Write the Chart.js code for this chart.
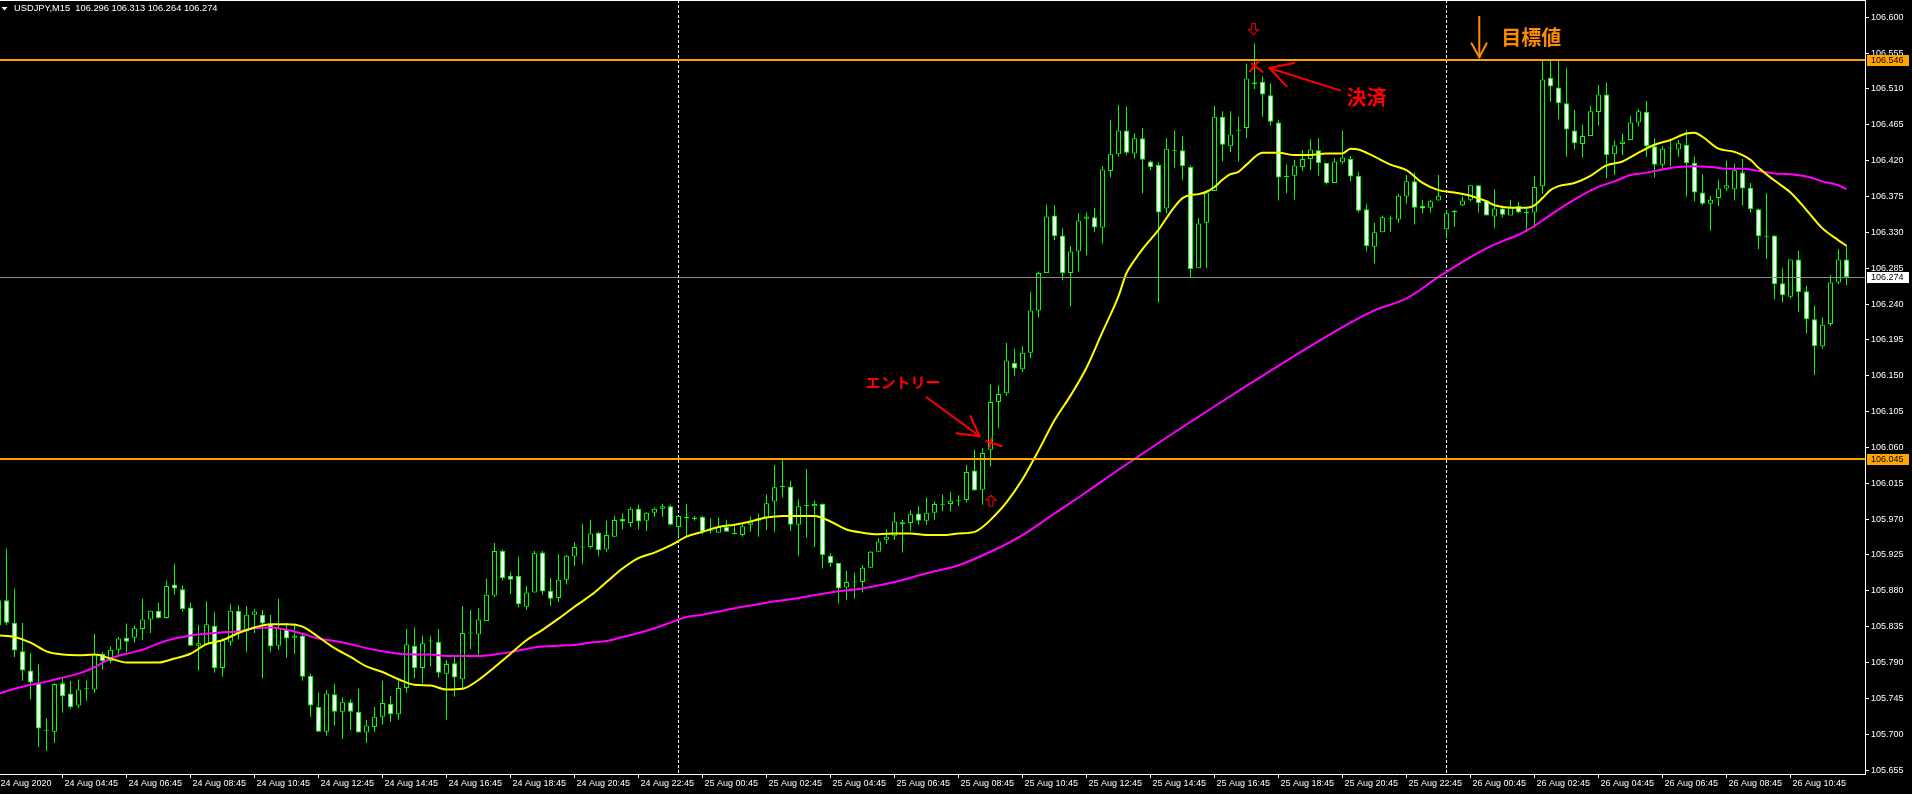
<!DOCTYPE html>
<html>
<head>
<meta charset="utf-8">
<title>USDJPY,M15</title>
<script src="https://cdn.jsdelivr.net/npm/chart.js@4.4.1/dist/chart.umd.min.js"></script>
<style>
  html, body { margin: 0; padding: 0; background: #000; overflow: hidden; }
  canvas { display: block; }
</style>
</head>
<body>
<canvas id="chart" width="1912" height="794"></canvas>
<script>
/* ==========================================================
   DATA : USDJPY M15, 24 Aug 02:45 -> 26 Aug 12:30 (bar index)
   ========================================================== */
const SYMBOL = "USDJPY,M15";

const OPEN = [
  105.837, 105.868, 105.840, 105.804, 105.780, 105.764, 105.705, 105.703, 105.764, 105.751,
  105.736, 105.757, 105.756, 105.801, 105.792, 105.806, 105.821, 105.821, 105.832, 105.844,
  105.855, 105.846, 105.888, 105.882, 105.859, 105.811, 105.813, 105.836, 105.783, 105.816,
  105.855, 105.829, 105.850, 105.850, 105.838, 105.811, 105.832, 105.821, 105.824, 105.773,
  105.734, 105.703, 105.750, 105.728, 105.740, 105.728, 105.702, 105.709, 105.722, 105.738,
  105.725, 105.758, 105.811, 105.783, 105.817, 105.816, 105.776, 105.789, 105.769, 105.827,
  105.825, 105.842, 105.874, 105.930, 105.899, 105.899, 105.860, 105.878, 105.928, 105.880,
  105.871, 105.894, 105.923, 105.935, 105.935, 105.953, 105.932, 105.948, 105.970, 105.965,
  105.983, 105.968, 105.978, 105.983, 105.986, 105.960, 105.972, 105.970, 105.973, 105.956,
  105.953, 105.960, 105.953, 105.950, 105.963, 105.968, 105.972, 105.992, 106.011, 106.011,
  105.963, 105.987, 105.986, 105.989, 105.924, 105.915, 105.884, 105.891, 105.891, 105.909,
  105.929, 105.944, 105.949, 105.964, 105.965, 105.977, 105.968, 105.978, 105.988, 105.989,
  105.993, 105.994, 106.031, 106.007, 106.057, 106.117, 106.128, 106.166, 106.158, 106.179,
  106.232, 106.279, 106.351, 106.326, 106.279, 106.306, 106.347, 106.349, 106.336, 106.407,
  106.428, 106.458, 106.429, 106.448, 106.419, 106.415, 106.360, 106.433, 106.433, 106.412,
  106.285, 106.342, 106.382, 106.475, 106.438, 106.458, 106.461, 106.518, 106.519, 106.502,
  106.468, 106.400, 106.401, 106.412, 106.422, 106.433, 106.417, 106.392, 106.418, 106.422,
  106.401, 106.359, 106.312, 106.330, 106.347, 106.346, 106.375, 106.394, 106.363, 106.361,
  106.370, 106.334, 106.355, 106.364, 106.371, 106.389, 106.370, 106.350, 106.360, 106.351,
  106.363, 106.355, 106.355, 106.388, 106.524, 106.512, 106.492, 106.458, 106.441, 106.451,
  106.481, 106.503, 106.428, 106.441, 106.446, 106.468, 106.481, 106.438, 106.415, 106.436,
  106.434, 106.440, 106.417, 106.380, 106.366, 106.373, 106.385, 106.384, 106.405, 106.386,
  106.359, 106.325, 106.326, 106.266, 106.249, 106.296, 106.256, 106.221, 106.187, 106.215,
  106.267, 106.296
];
const HIGH = [
  105.870, 105.933, 105.883, 105.840, 105.802, 105.788, 105.720, 105.764, 105.771, 105.767,
  105.768, 105.767, 105.826, 105.803, 105.810, 105.822, 105.839, 105.836, 105.870, 105.855,
  105.865, 105.893, 105.914, 105.887, 105.865, 105.837, 105.867, 105.853, 105.820, 105.863,
  105.862, 105.861, 105.857, 105.856, 105.850, 105.870, 105.840, 105.839, 105.827, 105.776,
  105.752, 105.755, 105.763, 105.746, 105.744, 105.757, 105.718, 105.734, 105.767, 105.748,
  105.767, 105.832, 105.834, 105.824, 105.823, 105.832, 105.793, 105.797, 105.861, 105.856,
  105.858, 105.895, 105.940, 105.932, 105.904, 105.923, 105.886, 105.930, 105.930, 105.896,
  105.926, 105.925, 105.941, 105.964, 105.969, 105.954, 105.968, 105.974, 105.977, 105.985,
  105.988, 105.979, 105.985, 105.989, 105.988, 105.974, 105.989, 105.974, 105.974, 105.971,
  105.972, 105.969, 105.963, 105.965, 105.973, 105.977, 106.001, 106.038, 106.045, 106.018,
  105.995, 106.033, 105.993, 105.990, 105.927, 105.915, 105.905, 105.903, 105.912, 105.930,
  105.946, 105.957, 105.978, 105.969, 105.981, 105.986, 105.997, 105.992, 106.001, 106.004,
  106.000, 106.038, 106.057, 106.059, 106.139, 106.138, 106.191, 106.184, 106.187, 106.255,
  106.281, 106.365, 106.364, 106.335, 106.313, 106.354, 106.355, 106.361, 106.413, 106.471,
  106.490, 106.488, 106.454, 106.461, 106.420, 106.418, 106.448, 106.458, 106.451, 106.414,
  106.348, 106.383, 106.489, 106.482, 106.482, 106.475, 106.542, 106.567, 106.526, 106.517,
  106.471, 106.415, 106.421, 106.433, 106.447, 106.448, 106.417, 106.423, 106.458, 106.426,
  106.406, 106.366, 106.342, 106.351, 106.351, 106.378, 106.402, 106.405, 106.371, 106.371,
  106.402, 106.358, 106.358, 106.375, 106.389, 106.389, 106.370, 106.384, 106.364, 106.371,
  106.368, 106.362, 106.401, 106.546, 106.546, 106.547, 106.536, 106.484, 106.465, 106.489,
  106.515, 106.518, 106.445, 106.454, 106.476, 106.485, 106.495, 106.448, 106.438, 106.446,
  106.446, 106.458, 106.425, 106.403, 106.376, 106.396, 106.420, 106.416, 106.422, 106.392,
  106.360, 106.379, 106.326, 106.285, 106.296, 106.307, 106.263, 106.238, 106.223, 106.276,
  106.309, 106.313
];
const LOW = [
  105.835, 105.837, 105.797, 105.767, 105.744, 105.684, 105.679, 105.689, 105.727, 105.732,
  105.733, 105.742, 105.752, 105.781, 105.789, 105.797, 105.803, 105.815, 105.818, 105.827,
  105.845, 105.845, 105.875, 105.854, 105.811, 105.780, 105.812, 105.777, 105.772, 105.811,
  105.819, 105.803, 105.827, 105.770, 105.803, 105.806, 105.796, 105.801, 105.767, 105.722,
  105.703, 105.698, 105.711, 105.694, 105.705, 105.702, 105.689, 105.703, 105.712, 105.715,
  105.718, 105.752, 105.770, 105.764, 105.785, 105.771, 105.718, 105.747, 105.757, 105.807,
  105.799, 105.842, 105.872, 105.893, 105.876, 105.859, 105.856, 105.878, 105.875, 105.861,
  105.866, 105.888, 105.911, 105.914, 105.933, 105.924, 105.929, 105.948, 105.957, 105.960,
  105.957, 105.955, 105.973, 105.973, 105.962, 105.948, 105.948, 105.968, 105.951, 105.952,
  105.953, 105.954, 105.951, 105.948, 105.954, 105.948, 105.956, 105.954, 105.997, 105.955,
  105.924, 105.947, 105.935, 105.908, 105.910, 105.864, 105.868, 105.870, 105.878, 105.909,
  105.929, 105.939, 105.944, 105.928, 105.955, 105.963, 105.963, 105.969, 105.980, 105.980,
  105.986, 105.991, 106.006, 105.988, 106.036, 106.084, 106.125, 106.150, 106.155, 106.172,
  106.223, 106.279, 106.320, 106.270, 106.237, 106.281, 106.301, 106.330, 106.316, 106.399,
  106.425, 106.427, 106.423, 106.379, 106.408, 106.242, 106.354, 106.411, 106.396, 106.274,
  106.285, 106.285, 106.382, 106.419, 106.431, 106.419, 106.448, 106.510, 106.475, 106.464,
  106.370, 106.379, 106.371, 106.407, 106.408, 106.401, 106.390, 106.392, 106.416, 106.394,
  106.355, 106.306, 106.291, 106.330, 106.331, 106.342, 106.366, 106.340, 106.354, 106.355,
  106.370, 106.322, 106.337, 106.363, 106.369, 106.355, 106.351, 106.335, 106.349, 106.351,
  106.354, 106.330, 106.336, 106.378, 106.494, 106.472, 106.425, 106.434, 106.424, 106.451,
  106.464, 106.398, 106.402, 106.427, 106.446, 106.463, 106.425, 106.399, 106.409, 106.413,
  106.425, 106.375, 106.369, 106.364, 106.332, 106.363, 106.382, 106.370, 106.364, 106.355,
  106.309, 106.297, 106.246, 106.242, 106.247, 106.230, 106.203, 106.151, 106.184, 106.212,
  106.265, 106.264
];
const CLOSE = [
  105.868, 105.840, 105.805, 105.780, 105.765, 105.707, 105.705, 105.763, 105.748, 105.734,
  105.756, 105.757, 105.800, 105.792, 105.806, 105.820, 105.816, 105.833, 105.844, 105.855,
  105.846, 105.886, 105.883, 105.857, 105.811, 105.814, 105.838, 105.783, 105.818, 105.855,
  105.827, 105.850, 105.854, 105.839, 105.810, 105.833, 105.820, 105.824, 105.772, 105.736,
  105.703, 105.751, 105.728, 105.740, 105.728, 105.702, 105.711, 105.722, 105.739, 105.725,
  105.758, 105.813, 105.783, 105.814, 105.817, 105.777, 105.788, 105.771, 105.827, 105.827,
  105.844, 105.875, 105.930, 105.896, 105.894, 105.863, 105.878, 105.927, 105.879, 105.870,
  105.894, 105.924, 105.935, 105.935, 105.952, 105.931, 105.950, 105.969, 105.967, 105.983,
  105.967, 105.978, 105.983, 105.986, 105.963, 105.974, 105.972, 105.972, 105.954, 105.956,
  105.960, 105.954, 105.951, 105.961, 105.966, 105.971, 105.990, 106.010, 106.011, 105.963,
  105.986, 105.987, 105.989, 105.925, 105.915, 105.883, 105.891, 105.891, 105.909, 105.929,
  105.942, 105.948, 105.967, 105.966, 105.976, 105.968, 105.978, 105.989, 105.988, 105.993,
  105.993, 106.029, 106.006, 106.053, 106.117, 106.127, 106.169, 106.159, 106.179, 106.232,
  106.279, 106.350, 106.325, 106.279, 106.306, 106.345, 106.350, 106.336, 106.409, 106.428,
  106.458, 106.430, 106.448, 106.421, 106.412, 106.355, 106.435, 106.433, 106.413, 106.284,
  106.341, 106.380, 106.475, 106.440, 106.453, 106.458, 106.523, 106.516, 106.503, 106.469,
  106.399, 106.400, 106.414, 106.422, 106.434, 106.417, 106.392, 106.419, 106.424, 106.400,
  106.357, 106.313, 106.330, 106.349, 106.347, 106.376, 106.394, 106.361, 106.360, 106.369,
  106.376, 106.354, 106.357, 106.370, 106.389, 106.367, 106.351, 106.360, 106.352, 106.362,
  106.355, 106.355, 106.387, 106.522, 106.513, 106.492, 106.459, 106.442, 106.451, 106.482,
  106.503, 106.427, 106.439, 106.444, 106.468, 106.482, 106.438, 106.415, 106.435, 106.436,
  106.442, 106.417, 106.380, 106.366, 106.371, 106.385, 106.389, 106.408, 106.385, 106.359,
  106.325, 106.325, 106.265, 106.251, 106.296, 106.255, 106.221, 106.187, 106.214, 106.267,
  106.296, 106.274
];

// fast MA (yellow) at these bars
const MA_FAST_BARS = [
  0, 2, 4, 6, 8, 10, 12, 14, 16, 18, 20, 22, 24, 26, 28, 30, 32, 34, 36, 38,
  40, 42, 44, 46, 48, 50, 52, 54, 56, 58, 60, 62, 64, 66, 68, 70, 72, 74, 76, 78,
  80, 82, 84, 86, 88, 90, 92, 94, 96, 98, 100, 102, 104, 106, 108, 110, 112, 114, 116, 118,
  120, 122, 123, 124, 126, 128, 130, 132, 134, 136, 138, 140,
  141, 142, 143, 144, 145, 146, 147, 148, 149, 150, 151, 152, 153, 154, 155, 156,
  158, 160, 162, 164, 166, 168, 169, 170, 172, 174, 176, 178, 180, 182, 184, 186,
  187, 189, 191, 192, 193, 194, 195, 197, 199, 201, 203, 205, 207, 209, 211, 212, 213,
  215, 217, 219, 220, 222, 224, 226, 228, 230, 231
];
const MA_FAST = [
  105.824, 105.822, 105.815, 105.804, 105.800, 105.799, 105.800, 105.795, 105.790, 105.790,
  105.790, 105.795, 105.801, 105.813, 105.818, 105.827, 105.834, 105.838, 105.838, 105.835,
  105.822, 105.808, 105.797, 105.785, 105.778, 105.769, 105.762, 105.761, 105.756, 105.757,
  105.768, 105.784, 105.801, 105.818, 105.831, 105.845, 105.860, 105.874, 105.891, 105.908,
  105.921, 105.928, 105.937, 105.948, 105.954, 105.960, 105.963, 105.967, 105.972, 105.974,
  105.974, 105.974, 105.967, 105.957, 105.953, 105.951, 105.952, 105.952, 105.950, 105.950,
  105.952, 105.954, 105.960, 105.969, 105.991, 106.020, 106.056, 106.094, 106.125, 106.160,
  106.205, 106.250,
  106.279, 106.295, 106.309, 106.321, 106.333, 106.348, 106.362, 106.373, 106.377, 106.378,
  106.381, 106.387, 106.396, 106.403, 106.406, 106.415,
  106.430, 106.430, 106.427, 106.427, 106.429, 106.429, 106.435, 106.434, 106.425, 106.415,
  106.408, 106.392, 106.383, 106.380, 106.376, 106.369,
  106.364, 106.361, 106.361, 106.364, 106.373, 106.383, 106.388, 106.392, 106.401, 106.414,
  106.419, 106.430, 106.440, 106.446, 106.454, 106.455, 106.450,
  106.435, 106.431, 106.421, 106.411, 106.395, 106.380, 106.358, 106.335, 106.320, 106.313
];

// slow MA (magenta)
const MA_SLOW_BARS = [
  0, 2, 4, 6, 8, 10, 12, 14, 16, 18, 20, 22, 24, 26, 28, 30, 32, 34, 36, 38,
  40, 42, 44, 46, 48, 50, 52, 54, 56, 58, 60, 62, 64, 66, 68, 70, 72, 74, 76, 78,
  80, 82, 84, 86, 88, 90, 92,
  96, 100, 104, 108, 112, 116, 120, 124, 128, 132, 136, 140,
  153, 168, 172, 176, 180, 184,
  186, 188, 190, 192, 194, 196, 198, 200, 202, 204, 206, 208, 210, 212, 214, 216, 218, 220,
  222, 224, 226, 228, 230, 231
];
const MA_SLOW = [
  105.751, 105.757, 105.762, 105.766, 105.771, 105.776, 105.784, 105.795, 105.801, 105.806,
  105.814, 105.820, 105.824, 105.826, 105.828, 105.829, 105.833, 105.834, 105.831, 105.826,
  105.820, 105.817, 105.813, 105.808, 105.804, 105.801, 105.800, 105.800, 105.798, 105.798,
  105.798, 105.800, 105.803, 105.807, 105.810, 105.811, 105.812, 105.815, 105.817, 105.822,
  105.827, 105.833, 105.840, 105.847, 105.850, 105.854, 105.858,
  105.865, 105.871, 105.878, 105.883, 105.891, 105.902, 105.912, 105.929, 105.950, 105.977,
  106.004, 106.032,
  106.118, 106.211, 106.232, 106.247, 106.274, 106.299,
  106.310, 106.319, 106.327, 106.338, 106.352, 106.365, 106.377, 106.387, 106.394, 106.402,
  106.405, 106.409, 106.412, 106.413, 106.412, 106.410, 106.410, 106.407,
  106.404, 106.403, 106.400, 106.394, 106.389, 106.384
];

const TIME_TICK_BARS = [0, 8, 16, 24, 32, 40, 48, 56, 64, 72, 80, 88, 96, 104, 112,
  120, 128, 136, 144, 152, 160, 168, 176, 184, 192, 200, 208, 216, 224];
const TIME_LABELS = ["24 Aug 2020", "24 Aug 04:45", "24 Aug 06:45", "24 Aug 08:45", "24 Aug 10:45",
  "24 Aug 12:45", "24 Aug 14:45", "24 Aug 16:45", "24 Aug 18:45", "24 Aug 20:45", "24 Aug 22:45",
  "25 Aug 00:45", "25 Aug 02:45", "25 Aug 04:45", "25 Aug 06:45", "25 Aug 08:45", "25 Aug 10:45",
  "25 Aug 12:45", "25 Aug 14:45", "25 Aug 16:45", "25 Aug 18:45", "25 Aug 20:45", "25 Aug 22:45",
  "26 Aug 00:45", "26 Aug 02:45", "26 Aug 04:45", "26 Aug 06:45", "26 Aug 08:45", "26 Aug 10:45"];
const PRICE_TICKS = [106.600, 106.555, 106.510, 106.465, 106.420, 106.375, 106.330, 106.285,
  106.240, 106.195, 106.150, 106.105, 106.060, 106.015, 105.970, 105.925, 105.880, 105.835,
  105.790, 105.745, 105.700, 105.655];

const DAY_BREAK_BARS = [85, 181];
const TARGET_LEVEL = 106.546;
const ENTRY_LEVEL = 106.045;
const BID = 106.274;

// annotation anchors (bar, price)
const ENTRY_BAR = 124, ENTRY_PRICE = 106.064;
const EXIT_BAR = 157, EXIT_PRICE = 106.538;
const TARGET_BAR = 185;

/* ==========================================================
   DATASETS
   ========================================================== */
const FONT = "'Liberation Sans', Arial, sans-serif";
const JP_FONT = "'Noto Sans CJK JP', 'Noto Sans CJK SC', sans-serif";

const bodyData = OPEN.map((o, i) => {
  let lo = Math.min(o, CLOSE[i]), hi = Math.max(o, CLOSE[i]);
  if (hi - lo < 0.0012) { // doji : keep a visible line
    const m = (hi + lo) / 2;
    lo = m - 0.0006; hi = m + 0.0006;
  }
  return { x: i, y: [lo, hi] };
});
const bodyFill = OPEN.map((o, i) => (CLOSE[i] >= o ? "#000000" : "#ffffff"));
const wickData = HIGH.map((h, i) => ({ x: i, y: [LOW[i], h] }));
const fastLine = MA_FAST_BARS.map((b, k) => ({ x: b, y: MA_FAST[k] }));
const slowLine = MA_SLOW_BARS.map((b, k) => ({ x: b, y: MA_SLOW[k] }));

/* ==========================================================
   OVERLAY : separators, levels, notes, axis boxes
   ========================================================== */
function seg(ctx, x1, y1, x2, y2) {
  ctx.beginPath(); ctx.moveTo(x1, y1); ctx.lineTo(x2, y2); ctx.stroke();
}
function arrow(ctx, tx, ty, hx, hy, a1x, a1y, a2x, a2y) {
  seg(ctx, tx, ty, hx, hy);
  seg(ctx, hx, hy, a1x, a1y);
  seg(ctx, hx, hy, a2x, a2y);
}
function hollowArrow(ctx, cx, top, down) {
  const pts = down
    ? [[-2, 0], [2, 0], [2, 6], [5, 6], [0, 11], [-5, 6], [-2, 6]]
    : [[0, 0], [5, 5], [2, 5], [2, 11], [-2, 11], [-2, 5], [-5, 5]];
  ctx.beginPath();
  pts.forEach(([dx, dy], k) => (k ? ctx.lineTo(cx + dx, top + dy) : ctx.moveTo(cx + dx, top + dy)));
  ctx.closePath();
  ctx.stroke();
}

const overlay = {
  id: "mt4Overlay",
  beforeDraw(chart) {
    const ctx = chart.ctx;
    ctx.save();
    ctx.fillStyle = "#000";
    ctx.fillRect(0, 0, chart.width, chart.height);
    ctx.restore();
  },
  beforeDatasetsDraw(chart) {
    const { ctx, chartArea: a, scales: { x } } = chart;
    ctx.save();
    ctx.strokeStyle = "#ffffff";
    ctx.lineWidth = 1;
    ctx.setLineDash([3, 2]);
    DAY_BREAK_BARS.forEach(b => {
      const px = Math.floor(x.getPixelForValue(b)) + 0.5;
      seg(ctx, px, a.top, px, a.bottom);
    });
    ctx.restore();
  },
  afterDatasetsDraw(chart) {
    const { ctx, chartArea: a, scales: { x, y } } = chart;
    ctx.save();
    ctx.beginPath();
    ctx.rect(a.left, a.top, a.right - a.left, a.bottom - a.top);
    ctx.clip();

    // horizontal levels
    ctx.fillStyle = "#ffa500";
    [TARGET_LEVEL, ENTRY_LEVEL].forEach(v => {
      const py = Math.round(y.getPixelForValue(v));
      ctx.fillRect(a.left, py - 1, a.right - a.left, 2);
    });
    ctx.fillStyle = "#8c8c8c";
    ctx.fillRect(a.left, Math.round(y.getPixelForValue(BID)), a.right - a.left, 1);

    ctx.lineCap = "round";
    ctx.textAlign = "center";
    ctx.textBaseline = "middle";

    // entry
    const ax = x.getPixelForValue(ENTRY_BAR), ay = y.getPixelForValue(ENTRY_PRICE);
    ctx.strokeStyle = "#ff0000";
    ctx.lineWidth = 2;
    seg(ctx, ax - 4, ay - 3, ax + 11, ay + 2);
    seg(ctx, ax + 1, ay - 6, ax - 1, ay + 3);
    arrow(ctx, ax - 64, ay - 47, ax - 11, ay - 8, ax - 34, ay - 11, ax - 20, ay - 28);
    ctx.fillStyle = "#ff0000";
    ctx.font = "bold 15px " + JP_FONT;
    ctx.textAlign = "left";
    ctx.fillText("エントリー", ax - 125, ay - 62);
    ctx.strokeStyle = "#e00000";
    ctx.lineWidth = 1.2;
    hollowArrow(ctx, ax + 0.5, ay + 51, false);

    // exit
    const bx = x.getPixelForValue(EXIT_BAR), by = y.getPixelForValue(EXIT_PRICE);
    ctx.strokeStyle = "#ff0000";
    ctx.lineWidth = 2;
    seg(ctx, bx - 4.5, by + 4.7, bx + 3.8, by - 5.3);
    seg(ctx, bx - 2.8, by - 3, bx + 8.2, by + 5.3);
    arrow(ctx, bx + 85.5, by + 23.7, bx + 14.8, by + 1.3, bx + 39.5, by - 3.7, bx + 32.2, by + 19.7);
    ctx.font = "bold 20px " + JP_FONT;
    ctx.textAlign = "center";
    ctx.fillText("決済", bx + 112, by + 30.5);
    ctx.strokeStyle = "#d00000";
    ctx.lineWidth = 1.2;
    hollowArrow(ctx, bx - 1, by - 43, true);

    // target
    const cx = x.getPixelForValue(TARGET_BAR) + 0.8, cy = y.getPixelForValue(TARGET_LEVEL);
    ctx.strokeStyle = "#ff8c00";
    ctx.lineWidth = 2;
    arrow(ctx, cx, cy - 43.6, cx, cy - 3, cx - 7.8, cy - 17, cx + 7.4, cy - 17);
    ctx.fillStyle = "#ff8c00";
    ctx.font = "bold 20px " + JP_FONT;
    ctx.fillText("目標値", cx + 52, cy - 23);
    ctx.restore();
  },
  afterDraw(chart) {
    const { ctx, chartArea: a, scales: { y } } = chart;
    ctx.save();
    // frame top line
    ctx.fillStyle = "#ffffff";
    ctx.fillRect(0, 0, a.right, 1);

    // price boxes on the axis
    ctx.font = "9px " + FONT;
    ctx.textAlign = "left";
    ctx.textBaseline = "middle";
    const box = (v, bg) => {
      const py = Math.round(y.getPixelForValue(v));
      ctx.fillStyle = bg;
      ctx.fillRect(a.right + 2, py - 5, 42, 11);
      ctx.fillStyle = "#000000";
      ctx.fillText(v.toFixed(3), a.right + 6, py + 0.5);
    };
    box(TARGET_LEVEL, "#ffa500");
    box(ENTRY_LEVEL, "#ffa500");
    box(BID, "#ffffff");

    // header
    const n = OPEN.length - 1;
    ctx.fillStyle = "#ffffff";
    ctx.beginPath();
    ctx.moveTo(1.5, 7); ctx.lineTo(7.5, 7); ctx.lineTo(4.5, 10.5);
    ctx.closePath(); ctx.fill();
    ctx.font = "9.3px " + FONT;
    const head = SYMBOL + "  " + [OPEN[n], HIGH[n], LOW[n], CLOSE[n]].map(v => v.toFixed(3)).join(" ");
    ctx.fillText(head, 14, 8.5);
    ctx.restore();
  }
};

/* ==========================================================
   CHART
   ========================================================== */
new Chart(document.getElementById("chart"), {
  type: "bar",
  data: {
    datasets: [
      {
        type: "line", label: "MA fast", data: fastLine,
        borderColor: "#ffff00", borderWidth: 2, pointRadius: 0,
        cubicInterpolationMode: "monotone", fill: false
      },
      {
        type: "line", label: "MA slow", data: slowLine,
        borderColor: "#ff00ff", borderWidth: 2, pointRadius: 0,
        cubicInterpolationMode: "monotone", fill: false
      },
      {
        label: "body", data: bodyData, grouped: false,
        barThickness: 5, maxBarThickness: 5, inflateAmount: 0,
        backgroundColor: bodyFill, borderColor: "#00ff00", borderWidth: 1, borderSkipped: false
      },
      {
        label: "wick", data: wickData, grouped: false,
        barThickness: 1, maxBarThickness: 1, inflateAmount: 0,
        backgroundColor: "#00ff00", borderWidth: 0
      }
    ]
  },
  options: {
    responsive: false,
    devicePixelRatio: 1,
    animation: false,
    layout: { padding: 0, autoPadding: false },
    plugins: { legend: { display: false }, tooltip: { enabled: false } },
    scales: {
      x: {
        type: "linear", min: 0.1875, max: 233.3125, offset: false,
        grid: { drawOnChartArea: false, tickLength: 4, color: "#ffffff", offset: false },
        border: { display: true, color: "#ffffff", width: 1 },
        ticks: {
          color: "#ffffff", font: { family: FONT, size: 9 },
          align: "start", labelOffset: 2, padding: 0,
          maxRotation: 0, minRotation: 0, autoSkip: false,
          callback: (v, idx) => TIME_LABELS[idx]
        },
        afterBuildTicks: s => { s.ticks = TIME_TICK_BARS.map(v => ({ value: v })); },
        afterFit: s => { s.height = 20; s.paddingLeft = 0; s.paddingRight = 0; }
      },
      y: {
        type: "linear", position: "right", min: 105.650, max: 106.6217,
        grid: { drawOnChartArea: false, tickLength: 4, color: "#ffffff" },
        border: { display: true, color: "#ffffff", width: 1 },
        ticks: {
          color: "#ffffff", font: { family: FONT, size: 9 }, padding: 2, autoSkip: false,
          callback: v => v.toFixed(3)
        },
        afterBuildTicks: s => { s.ticks = PRICE_TICKS.map(v => ({ value: v })); },
        afterFit: s => { s.width = 47; s.paddingTop = 0; s.paddingBottom = 0; }
      }
    }
  },
  plugins: [overlay]
});
</script>
</body>
</html>
